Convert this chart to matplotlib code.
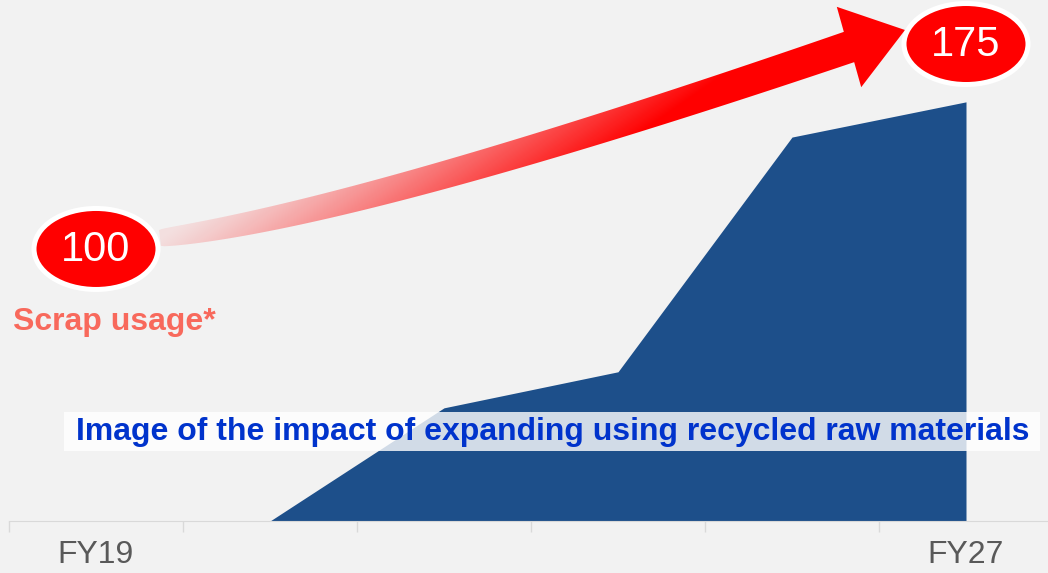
import numpy as np
import matplotlib.pyplot as plt
from matplotlib.patches import Ellipse, Polygon, Rectangle

plt.rcParams['font.family'] = ['Liberation Sans', 'DejaVu Sans']

# Periodos FY19 .. FY27 (solo se rotulan los extremos)
periodos = ['FY19', '', '', '', '', 'FY27']
# Impacto de usar más materia prima reciclada (índice, FY27 = 100)
impacto = [0, 0, 27, 35.6, 91.6, 100]

# Uso de chatarra en los extremos y altura de sus etiquetas
uso_chatarra = [100, 175]
altura_etiquetas = [64.9, 113.8]

fondo = '#F2F2F2'
azul = '#1D4F8A'
rojo = '#FF0000'

W, H = 1048, 573
fig = plt.figure(figsize=(W / 100, H / 100), dpi=100, facecolor=fondo)
ax = fig.add_axes([9 / W, 52 / H, 1044 / W, 521 / H])
ax.set_facecolor(fondo)

x = np.arange(len(periodos))
ax.fill_between(x, impacto, color=azul, lw=0)
ax.set_xlim(-0.5, len(periodos) - 0.5)
ax.set_ylim(0, 124.3)

for lado in ['top', 'right', 'left']:
    ax.spines[lado].set_visible(False)
ax.spines['bottom'].set_color('#D9D9D9')
ax.set_yticks([])
ax.set_xticks(x, periodos)
ax.set_xticks(np.arange(-0.5, len(periodos), 1), minor=True)
ax.tick_params(axis='x', which='major', length=0, pad=14, labelsize=23, labelcolor='#595959')
ax.tick_params(axis='x', which='minor', length=8, width=1, color='#D9D9D9')

# Capa superior en pixeles para flecha y etiquetas
ov = fig.add_axes([0, 0, 1, 1], facecolor='none')
ov.axis('off')


def a_pixeles(xd, yd):
    px, py = ax.transData.transform((xd, yd))
    return np.array([px, H - py])


c0 = a_pixeles(x[0], altura_etiquetas[0])
c1 = a_pixeles(x[-1], altura_etiquetas[1])

# Flecha curva (Bezier cuadratica) que va de una etiqueta a la otra
p0 = c0 + np.array([64, -11])
p2 = c1 + np.array([-117, 3])
ctrl = p0 + np.array([200, -24])
punta = c1 + np.array([-61, -14])

t = np.linspace(0, 1, 120)[:, None]
curva = (1 - t) ** 2 * p0 + 2 * (1 - t) * t * ctrl + t ** 2 * p2
deriv = 2 * (1 - t) * (ctrl - p0) + 2 * t * (p2 - ctrl)
tang = deriv / np.linalg.norm(deriv, axis=1, keepdims=True)
normal = np.column_stack([-tang[:, 1], tang[:, 0]])
ancho = 8 + 8 * np.sqrt(t)
borde_a = curva + normal * ancho
borde_b = curva - normal * ancho

d = (punta - p2) / np.linalg.norm(punta - p2)
n_cab = np.array([-d[1], d[0]])
contorno = np.vstack([borde_a, p2 + n_cab * 42, punta, p2 - n_cab * 42, borde_b[::-1]])
flecha = Polygon(contorno, closed=True, facecolor='none', edgecolor='none')
ov.add_patch(flecha)

# Degradado: casi transparente a la izquierda, rojo pleno hacia la punta
yy, xx = np.mgrid[0:H, 0:W] + 0.5
s = (xx - p0[0]) * 0.57 + (yy - p0[1]) * 0.82
alfa = 0.08 + 0.92 * np.clip(s / 187, 0, 1) ** 1.2
rgba = np.zeros((H, W, 4))
rgba[..., 0] = 1.0
rgba[..., 3] = alfa
img = ov.imshow(rgba, extent=(0, W, H, 0), origin='upper', interpolation='bilinear', aspect='auto')
img.set_clip_path(flecha)

ov.set_xlim(0, W)
ov.set_ylim(H, 0)

# Etiquetas ovaladas con el uso de chatarra
for c, valor in zip([c0, c1], uso_chatarra):
    ov.add_patch(Ellipse(c, 124, 81, facecolor=rojo, edgecolor='white', lw=3.6, zorder=5))
    ov.text(c[0], c[1] + 1, str(valor), color='white', fontsize=30, ha='center', va='center', zorder=6)

ov.text(13, 322, 'Scrap usage*', color='#F8695C', fontsize=23, fontweight='bold', ha='left', va='center')

# Rotulo con fondo blanco semitransparente
ov.add_patch(Rectangle((64, 412), 976, 39, facecolor='white', edgecolor='none', alpha=0.8))
ov.text(553, 432, 'Image of the impact of expanding using recycled raw materials',
        color='#0033CC', fontsize=23, fontweight='bold', ha='center', va='center')

fig.savefig('out.png', dpi=100, facecolor=fondo)
